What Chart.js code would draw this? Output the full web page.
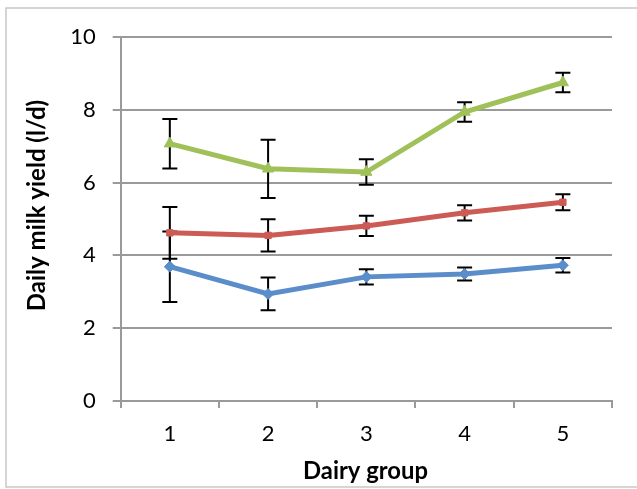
<!DOCTYPE html>
<html>
<head>
<meta charset="utf-8">
<script src="https://cdn.jsdelivr.net/npm/chart.js@4"></script>
<style>
  html, body { margin: 0; padding: 0; background: #fff; }
  #wrap { width: 637px; height: 489px; position: relative; }
</style>
</head>
<body>
<div id="wrap"><canvas id="grafico"></canvas></div>
<script>
// Datos
const groups = ["1", "2", "3", "4", "5"];
const yTicks = [0, 2, 4, 6, 8, 10];

const blueVals = [3.69, 2.94, 3.41, 3.49, 3.73];
const blueErr  = [0.97, 0.45, 0.21, 0.18, 0.20];

const redVals  = [4.62, 4.55, 4.81, 5.17, 5.46];
const redErr   = [0.71, 0.44, 0.28, 0.21, 0.22];

const greenVals = [7.07, 6.38, 6.29, 7.94, 8.75];
const greenErr  = [0.68, 0.80, 0.35, 0.27, 0.27];

const xTitle = "Dairy group";
const yTitle = "Daily milk yield (l/d)";

const FONT = "Lato, 'Open Sans', sans-serif";

// Barras de error: se dibujan antes de cada serie (como Excel)
const errorBars = {
  id: "errorBars",
  beforeDatasetDraw(chart, args){
    const ds = chart.data.datasets[args.index];
    if (!ds.err) return;
    const x = chart.scales.x, y = chart.scales.y;
    const ctx = chart.ctx;
    ctx.save();
    ctx.strokeStyle = "#000";
    ctx.lineWidth = 2;
    ds.data.forEach((v, i) => {
      const px = x.getPixelForValue(i);
      const top = y.getPixelForValue(v + ds.err[i]);
      const bot = y.getPixelForValue(v - ds.err[i]);
      ctx.beginPath();
      ctx.moveTo(px, top); ctx.lineTo(px, bot);
      ctx.moveTo(px - 7.5, top); ctx.lineTo(px + 7.5, top);
      ctx.moveTo(px - 7.5, bot); ctx.lineTo(px + 7.5, bot);
      ctx.stroke();
    });
    ctx.restore();
  }
};

// ajusta el tamaño de letra al ancho que ocupa en el original
function fitFont(ctx, text, width){
  ctx.font = `bold 20px ${FONT}`;
  const w = ctx.measureText(text).width;
  const size = Math.min(24, 20 * width / w);
  ctx.font = `bold ${size}px ${FONT}`;
}

// Marco exterior + títulos de ejes
const frameAndTitles = {
  id: "frameAndTitles",
  beforeDraw(chart){
    const ctx = chart.ctx;
    ctx.save();
    ctx.strokeStyle = "#c8c8c8";
    ctx.lineWidth = 1.5;
    ctx.strokeRect(6, 8, 640, 479);
    ctx.restore();
  },
  afterDraw(chart){
    const ctx = chart.ctx;
    ctx.save();
    ctx.fillStyle = "#000";
    ctx.textAlign = "center";
    ctx.textBaseline = "alphabetic";
    fitFont(ctx, xTitle, 125);
    ctx.fillText(xTitle, 365.5, 479);
    fitFont(ctx, yTitle, 222);
    ctx.translate(45, 205.5);
    ctx.rotate(-Math.PI / 2);
    ctx.fillText(yTitle, 0, 0);
    ctx.restore();
  }
};

const line = (vals, err, color, style, radius, order) => ({
  data: vals,
  err,
  borderColor: color,
  backgroundColor: color,
  borderWidth: 5,
  pointStyle: style,
  pointRadius: radius,
  pointHoverRadius: radius,
  pointBorderWidth: 1,
  tension: 0,
  order
});

new Chart(document.getElementById("grafico").getContext("2d"), {
  type: "line",
  data: {
    labels: groups,
    datasets: [
      line(blueVals, blueErr, "#5A8DCA", "rectRot", 5.5, 3),
      line(redVals, redErr, "#CD5B55", "rect", 4.5, 2),
      line(greenVals, greenErr, "#A0C05A", "triangle", 6.5, 1)
    ]
  },
  options: {
    responsive: true,
    maintainAspectRatio: false,
    animation: false,
    events: [],
    layout: { padding: { left: 0, right: 25, top: 37, bottom: 0 } },
    plugins: { legend: { display: false }, tooltip: { enabled: false } },
    scales: {
      x: {
        offset: true,
        grid: { offset: true, drawOnChartArea: false, drawTicks: true, tickLength: 7, color: "#9a9a9a", lineWidth: 2 },
        border: { color: "#9a9a9a", width: 2 },
        ticks: { color: "#000", font: { family: FONT, size: 22 }, padding: 13 },
        afterFit(s){ s.height = 88; }
      },
      y: {
        min: 0, max: 10,
        afterBuildTicks(s){ s.ticks = yTicks.map(v => ({ value: v })); },
        grid: { color: "#9a9a9a", lineWidth: 2, tickLength: 8 },
        border: { color: "#9a9a9a", width: 2 },
        ticks: { color: "#000", font: { family: FONT, size: 22 }, padding: 17 },
        afterFit(s){ s.width = 120.7; }
      }
    }
  },
  plugins: [errorBars, frameAndTitles]
});
</script>
</body>
</html>
